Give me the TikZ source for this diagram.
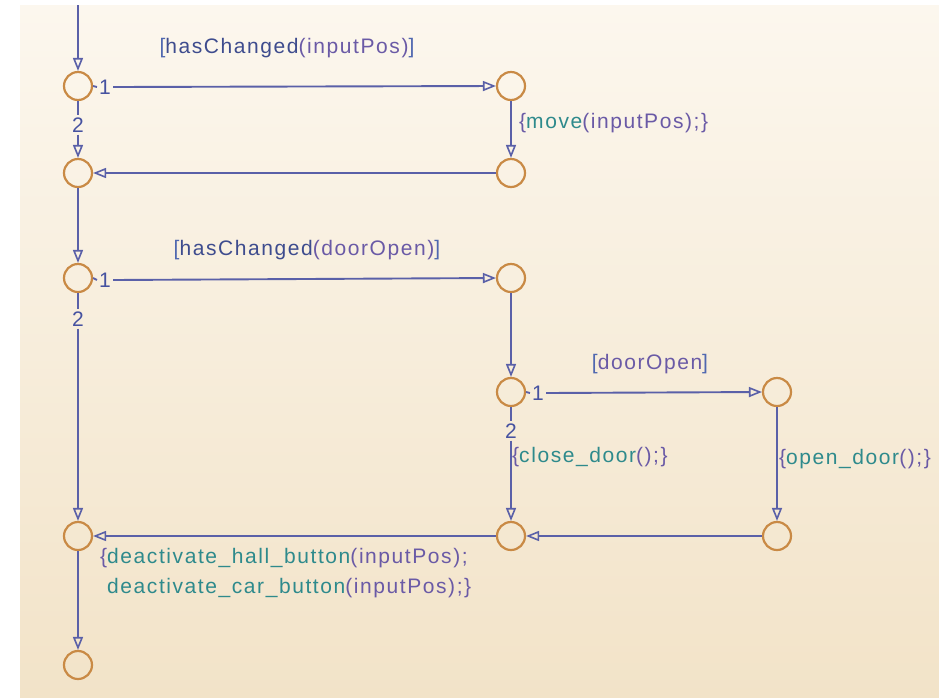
\documentclass[tikz,border=0pt]{standalone}
\usepackage{fontspec}
\setmainfont{Liberation Sans}[LetterSpace=7.5]
\usetikzlibrary{arrows.meta}
\definecolor{bgtop}{HTML}{FCF7EE}
\definecolor{bgbot}{HTML}{F2E3C8}
\definecolor{wire}{HTML}{5A60A8}
\definecolor{ring}{HTML}{C98A45}
\definecolor{fn}{HTML}{2E8A8C}
\definecolor{cond}{HTML}{3E4C8E}
\definecolor{arg}{HTML}{6A5AA6}
\definecolor{brk}{HTML}{5068B0}
\definecolor{num}{HTML}{4652A0}
\newcommand{\Fn}[1]{\textcolor{fn}{#1}}
\newcommand{\Cd}[1]{\textcolor{cond}{#1}}
\newcommand{\Bk}[1]{\textcolor{brk}{#1}}
\tikzset{
  junc/.style={circle, draw=ring, line width=2.2pt, minimum size=28pt, inner sep=0pt},
  wireline/.style={draw=wire, line width=1.9pt},
  arr/.style={wireline, -{Triangle[open, length=13pt, width=10pt, line width=1.6pt]}},
  numlab/.style={text=num, inner sep=2pt, font=\fontsize{21}{25}\selectfont},
  txt/.style={inner sep=0pt, font=\fontsize{21}{25}\selectfont, text=arg},
}
\begin{document}
\begin{tikzpicture}[x=1pt, y=-1pt]
\useasboundingbox[fill=white] (0,0) rectangle (939,697);
\shade[top color=bgtop, bottom color=bgbot] (20,5) rectangle (939,697);

% junctions
\node[junc] (L1) at (78,86) {};
\node[junc] (L2) at (78,173) {};
\node[junc] (L3) at (78,278) {};
\node[junc] (L5) at (78,536) {};
\node[junc] (L6) at (78,665) {};
\node[junc] (M1) at (511,86) {};
\node[junc] (M2) at (511,173) {};
\node[junc] (M3) at (511,278) {};
\node[junc] (M4) at (511,392) {};
\node[junc] (M5) at (511,536) {};
\node[junc] (R4) at (777,392) {};
\node[junc] (R5) at (777,536) {};
\coordinate (top) at (78,5);

% order labels
\node[numlab] (o1a) at (105,87) {1};
\node[numlab] (o2a) at (78,125) {2};
\node[numlab] (o1b) at (105,280) {1};
\node[numlab] (o2b) at (78,319) {2};
\node[numlab] (o1c) at (538,393) {1};
\node[numlab] (o2c) at (511,431) {2};

% connectors
\draw[arr] (top) -- (L1);
\draw[wireline] (L1.east) -- (o1a.west);
\draw[arr] (o1a.east) -- (M1.west);
\draw[wireline] (L1.south) -- (o2a.north);
\draw[arr] (o2a.south) -- (L2.north);
\draw[arr] (M1) -- (M2);
\draw[arr] (M2) -- (L2);
\draw[arr] (L2) -- (L3);
\draw[wireline] (L3.east) -- (o1b.west);
\draw[arr] (o1b.east) -- (M3.west);
\draw[wireline] (L3.south) -- (o2b.north);
\draw[arr] (o2b.south) -- (L5.north);
\draw[arr] (M3) -- (M4);
\draw[wireline] (M4.east) -- (o1c.west);
\draw[arr] (o1c.east) -- (R4.west);
\draw[wireline] (M4.south) -- (o2c.north);
\draw[arr] (o2c.south) -- (M5.north);
\draw[arr] (R4) -- (R5);
\draw[arr] (R5) -- (M5);
\draw[arr] (M5) -- (L5);
\draw[arr] (L5) -- (L6);

% texts
\node[txt] (t1) at (287,48) {\Bk{[}\Cd{hasChanged}(inputPos)\Bk{]}};
\node[txt, anchor=west] (t2) at (519,123) {\{\Fn{move}(inputPos);\}};
\node[txt] (t3) at (307,250) {\Bk{[}\Cd{hasChanged}(doorOpen)\Bk{]}};
\node[txt] (t4) at (650,364) {\Bk{[}doorOpen\Bk{]}};
\node[txt, anchor=west] (t5) at (512,457) {\{\Fn{close\_door}();\}};
\node[txt, anchor=west] (t6) at (779,459) {\{\Fn{open\_door}();\}};
\node[txt, anchor=north west, align=left, font=\fontsize{21}{30}\selectfont] (t7) at (100,548)
  {\{\Fn{deactivate\_hall\_button}(inputPos);\\
   \hspace*{7pt}\Fn{deactivate\_car\_button}(inputPos);\}};
\end{tikzpicture}
\end{document}
